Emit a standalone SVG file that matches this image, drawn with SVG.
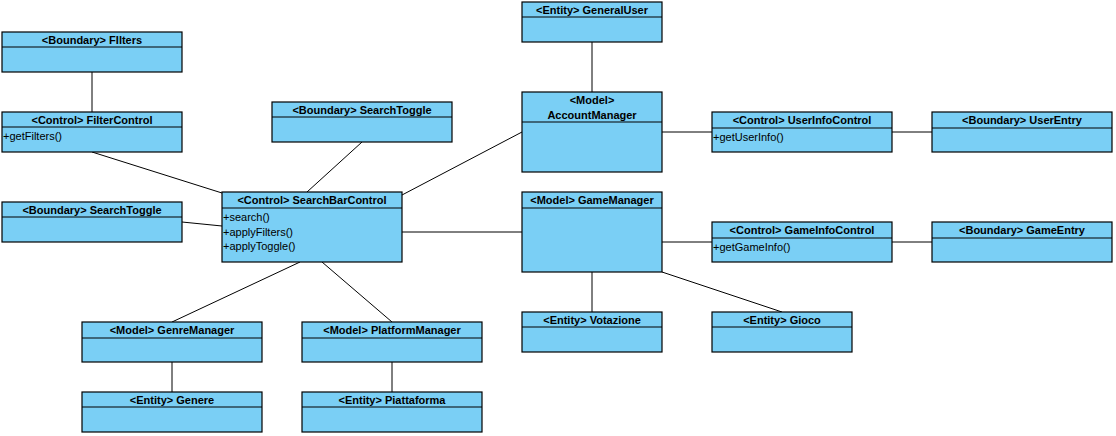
<svg xmlns="http://www.w3.org/2000/svg" width="1116" height="436" viewBox="0 0 1116 436">
<style>
.box{fill:#7ACFF5;stroke:#000;stroke-width:1.2}
.sep{stroke:#000;stroke-width:1.2}
.t{font-family:"Liberation Sans",Arial,sans-serif;font-size:11px;font-weight:bold;text-anchor:middle;fill:#000}
.a{font-family:"Liberation Sans",Arial,sans-serif;font-size:11px;fill:#000}
.c line{stroke:#000;stroke-width:1}
</style>
<rect width="1116" height="436" fill="#fff"/>
<g class="c" id="connectors">
<line x1="92" y1="72" x2="92" y2="112"/>
<line x1="92" y1="152" x2="222" y2="193"/>
<line x1="362" y1="142" x2="307" y2="192"/>
<line x1="182" y1="222" x2="222" y2="226"/>
<line x1="402" y1="195" x2="522" y2="132"/>
<line x1="402" y1="232" x2="522" y2="232"/>
<line x1="300" y1="262" x2="172" y2="322"/>
<line x1="322" y1="262" x2="392" y2="322"/>
<line x1="172" y1="362" x2="172" y2="392"/>
<line x1="392" y1="362" x2="392" y2="392"/>
<line x1="592" y1="42" x2="592" y2="92"/>
<line x1="662" y1="132" x2="712" y2="132"/>
<line x1="892" y1="132" x2="932" y2="132"/>
<line x1="662" y1="242" x2="712" y2="242"/>
<line x1="892" y1="242" x2="932" y2="242"/>
<line x1="592" y1="272" x2="592" y2="312"/>
<line x1="662" y1="272" x2="782" y2="312"/>
</g>
<g id="filters"><rect class="box" x="2" y="32" width="180" height="40"/><line class="sep" x1="2" y1="47" x2="182" y2="47"/><text class="t" x="92" y="44">&lt;Boundary&gt; FIlters</text></g>
<g id="filterControl"><rect class="box" x="2" y="112" width="180" height="40"/><line class="sep" x1="2" y1="127" x2="182" y2="127"/><text class="t" x="92" y="124">&lt;Control&gt; FilterControl</text><text class="a" x="3" y="140">+getFilters()</text></g>
<g id="searchToggleTop"><rect class="box" x="272" y="102" width="180" height="40"/><line class="sep" x1="272" y1="117" x2="452" y2="117"/><text class="t" x="362" y="114">&lt;Boundary&gt; SearchToggle</text></g>
<g id="searchToggleLeft"><rect class="box" x="2" y="202" width="180" height="40"/><line class="sep" x1="2" y1="217" x2="182" y2="217"/><text class="t" x="92" y="214">&lt;Boundary&gt; SearchToggle</text></g>
<g id="searchBarControl"><rect class="box" x="222" y="192" width="180" height="70"/><line class="sep" x1="222" y1="208" x2="402" y2="208"/><text class="t" x="312" y="204">&lt;Control&gt; SearchBarControl</text><text class="a" x="223" y="221">+search()</text><text class="a" x="223" y="236">+applyFilters()</text><text class="a" x="223" y="250">+applyToggle()</text></g>
<g id="generalUser"><rect class="box" x="522" y="2" width="140" height="40"/><line class="sep" x1="522" y1="17" x2="662" y2="17"/><text class="t" x="592" y="14">&lt;Entity&gt; GeneralUser</text></g>
<g id="accountManager"><rect class="box" x="522" y="92" width="140" height="80"/><line class="sep" x1="522" y1="122" x2="662" y2="122"/><text class="t" x="592" y="104">&lt;Model&gt;</text><text class="t" x="592" y="119">AccountManager</text></g>
<g id="userInfoControl"><rect class="box" x="712" y="112" width="180" height="40"/><line class="sep" x1="712" y1="128" x2="892" y2="128"/><text class="t" x="802" y="124">&lt;Control&gt; UserInfoControl</text><text class="a" x="713" y="141">+getUserInfo()</text></g>
<g id="userEntry"><rect class="box" x="932" y="112" width="180" height="40"/><line class="sep" x1="932" y1="128" x2="1112" y2="128"/><text class="t" x="1022" y="124">&lt;Boundary&gt; UserEntry</text></g>
<g id="gameManager"><rect class="box" x="522" y="192" width="140" height="80"/><line class="sep" x1="522" y1="208" x2="662" y2="208"/><text class="t" x="592" y="204">&lt;Model&gt; GameManager</text></g>
<g id="gameInfoControl"><rect class="box" x="712" y="222" width="180" height="40"/><line class="sep" x1="712" y1="238" x2="892" y2="238"/><text class="t" x="802" y="234">&lt;Control&gt; GameInfoControl</text><text class="a" x="713" y="251">+getGameInfo()</text></g>
<g id="gameEntry"><rect class="box" x="932" y="222" width="180" height="40"/><line class="sep" x1="932" y1="238" x2="1112" y2="238"/><text class="t" x="1022" y="234">&lt;Boundary&gt; GameEntry</text></g>
<g id="votazione"><rect class="box" x="522" y="312" width="140" height="40"/><line class="sep" x1="522" y1="327" x2="662" y2="327"/><text class="t" x="592" y="324">&lt;Entity&gt; Votazione</text></g>
<g id="gioco"><rect class="box" x="712" y="312" width="140" height="40"/><line class="sep" x1="712" y1="327" x2="852" y2="327"/><text class="t" x="782" y="324">&lt;Entity&gt; Gioco</text></g>
<g id="genreManager"><rect class="box" x="82" y="322" width="180" height="40"/><line class="sep" x1="82" y1="338" x2="262" y2="338"/><text class="t" x="172" y="334">&lt;Model&gt; GenreManager</text></g>
<g id="platformManager"><rect class="box" x="302" y="322" width="180" height="40"/><line class="sep" x1="302" y1="338" x2="482" y2="338"/><text class="t" x="392" y="334">&lt;Model&gt; PlatformManager</text></g>
<g id="genere"><rect class="box" x="82" y="392" width="180" height="40"/><line class="sep" x1="82" y1="407" x2="262" y2="407"/><text class="t" x="172" y="404">&lt;Entity&gt; Genere</text></g>
<g id="piattaforma"><rect class="box" x="302" y="392" width="180" height="40"/><line class="sep" x1="302" y1="407" x2="482" y2="407"/><text class="t" x="392" y="404">&lt;Entity&gt; Piattaforma</text></g>
</svg>
